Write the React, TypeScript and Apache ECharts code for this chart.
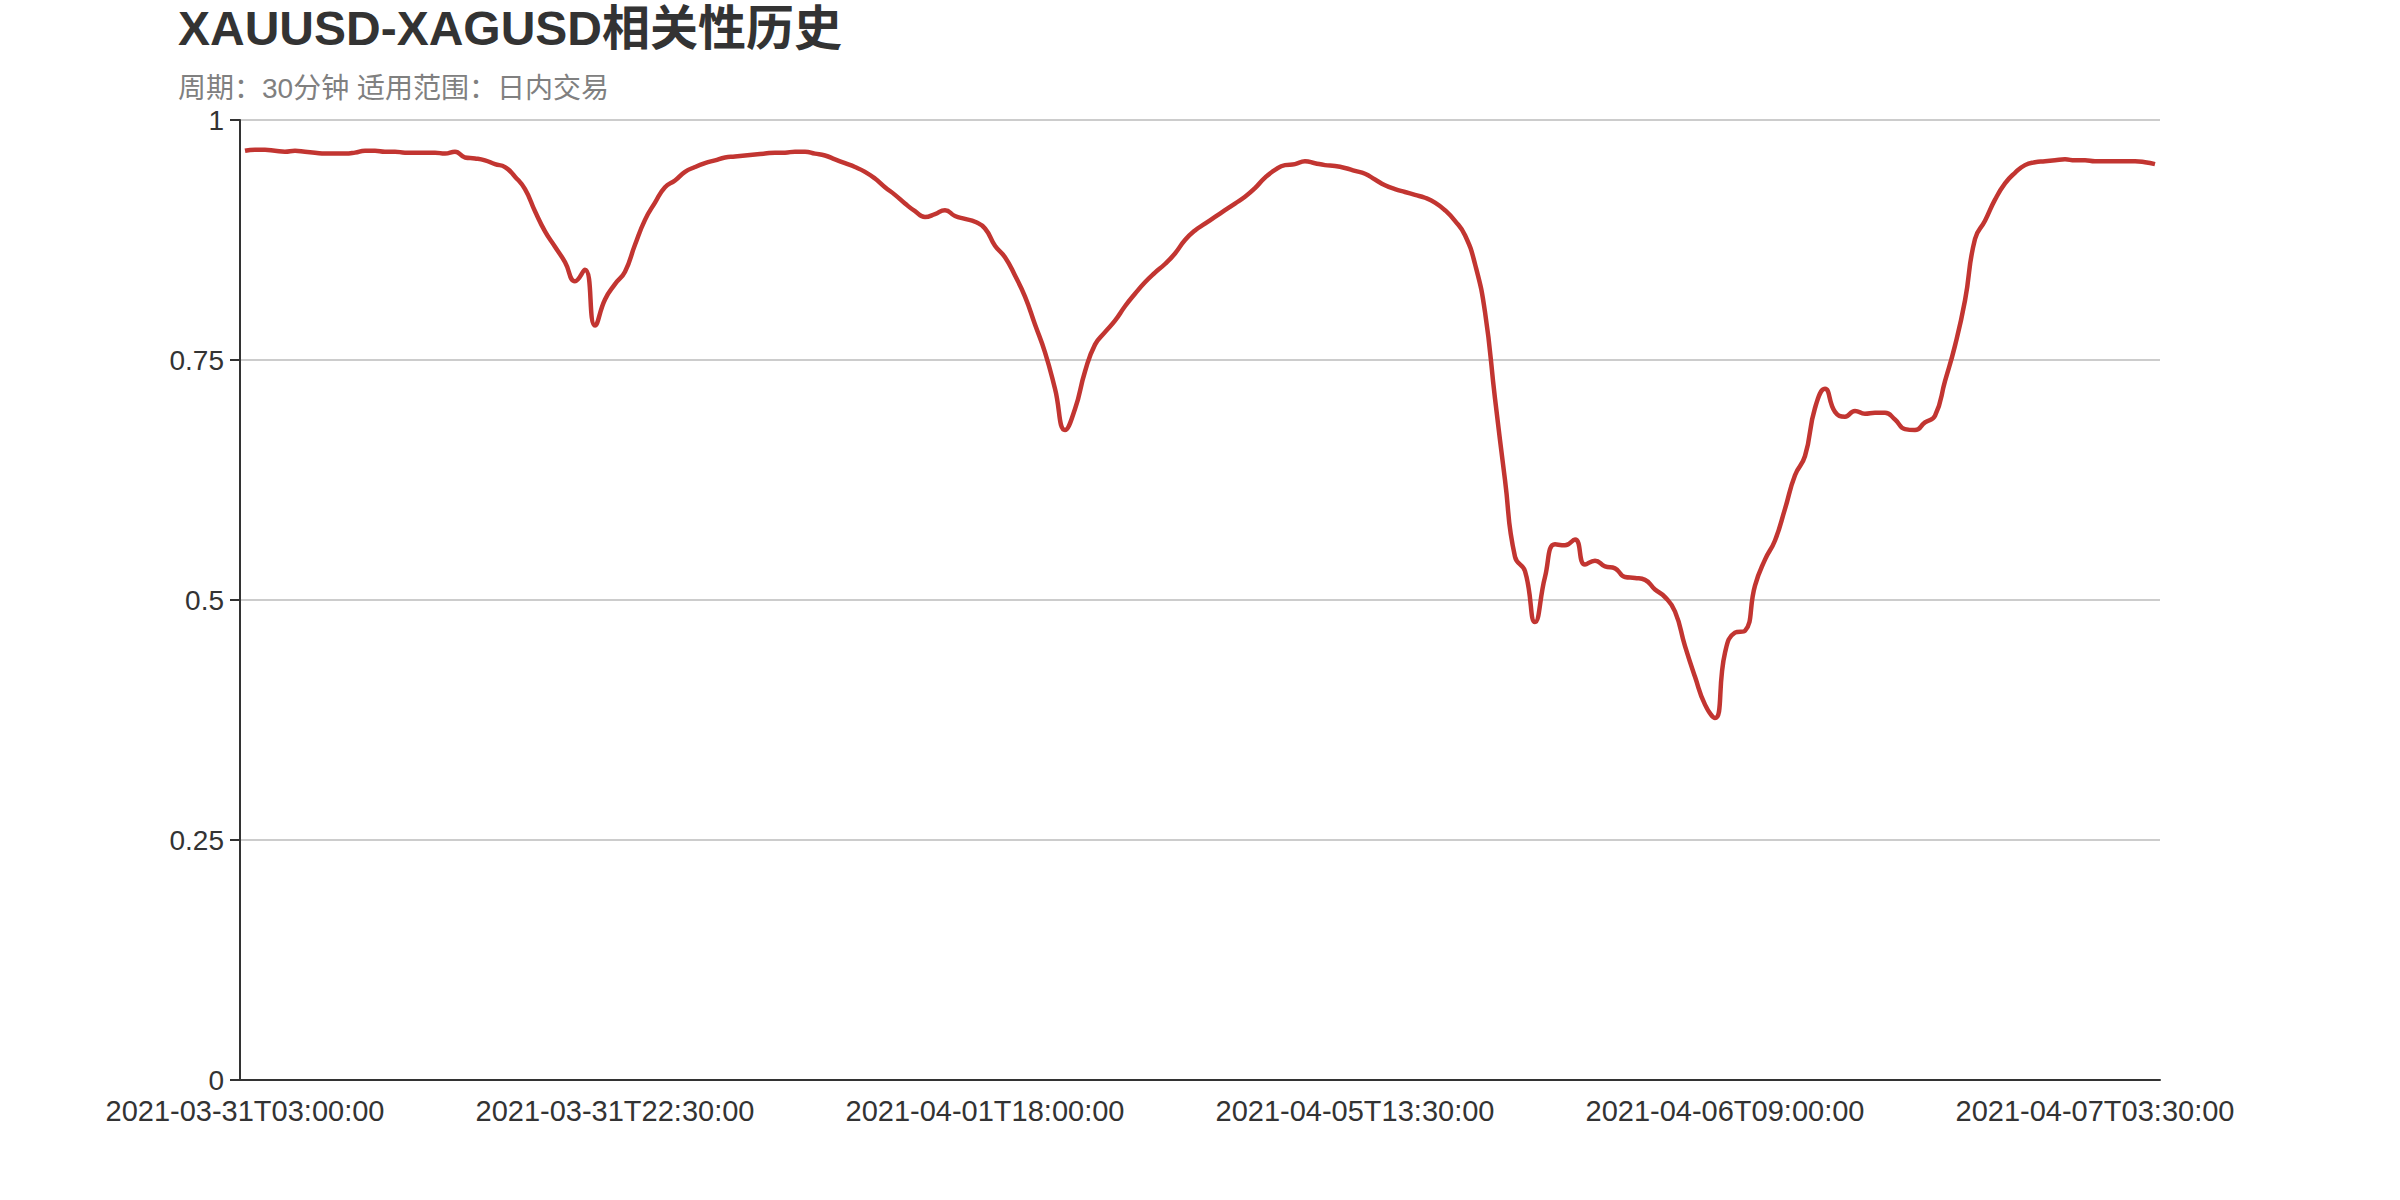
import React, { useEffect, useRef } from "react";
import * as echarts from "echarts";

const titleText = "XAUUSD-XAGUSD相关性历史";
const subtitleText = "周期：30分钟 适用范围：日内交易";

// anchor timestamps shown as x-axis labels (every 37th category)
const anchorTimes = [
  "2021-03-31T03:00:00",
  "2021-03-31T22:30:00",
  "2021-04-01T18:00:00",
  "2021-04-05T13:30:00",
  "2021-04-06T09:00:00",
  "2021-04-07T03:30:00",
];
const pointsPerAnchor = [37, 37, 37, 37, 37, 7];

const correlation = [
  0.968, 0.969, 0.969, 0.968, 0.967, 0.968, 0.967, 0.966, 0.965, 0.965,
  0.965, 0.966, 0.968, 0.968, 0.967, 0.967, 0.966, 0.966, 0.966, 0.966,
  0.965, 0.967, 0.961, 0.960, 0.958, 0.954, 0.951, 0.941, 0.928, 0.905,
  0.884, 0.868, 0.852, 0.832, 0.844, 0.786, 0.813, 0.829, 0.842, 0.870,
  0.896, 0.914, 0.930, 0.937, 0.946, 0.951, 0.955, 0.958, 0.961, 0.962,
  0.963, 0.964, 0.965, 0.966, 0.966, 0.967, 0.967, 0.965, 0.963, 0.959,
  0.955, 0.951, 0.946, 0.939, 0.930, 0.922, 0.913, 0.905, 0.899, 0.902,
  0.906, 0.900, 0.897, 0.894, 0.887, 0.869, 0.857, 0.838, 0.816, 0.787,
  0.758, 0.720, 0.677, 0.699, 0.738, 0.766, 0.779, 0.791, 0.806, 0.819,
  0.831, 0.841, 0.850, 0.861, 0.875, 0.885, 0.892, 0.899, 0.906, 0.913,
  0.920, 0.929, 0.940, 0.948, 0.953, 0.954, 0.957, 0.955, 0.953, 0.952,
  0.950, 0.947, 0.944, 0.938, 0.932, 0.928, 0.925, 0.922, 0.919, 0.914,
  0.906, 0.895, 0.880, 0.850, 0.800, 0.710, 0.625, 0.545, 0.530, 0.477,
  0.524, 0.558, 0.557, 0.563, 0.537, 0.541, 0.535, 0.533, 0.524, 0.523,
  0.521, 0.511, 0.503, 0.488, 0.452, 0.420, 0.391, 0.377, 0.445, 0.466,
  0.468, 0.515, 0.542, 0.562, 0.595, 0.630, 0.650, 0.700, 0.720, 0.696,
  0.691, 0.697, 0.694, 0.695, 0.695, 0.688, 0.678, 0.677, 0.685, 0.692,
  0.728, 0.765, 0.812, 0.876, 0.895, 0.917, 0.934, 0.945, 0.953, 0.956,
  0.957, 0.958, 0.959, 0.958, 0.958, 0.957, 0.957, 0.957, 0.957, 0.957,
  0.956, 0.954,
];

const yTicks = { min: 0, max: 1, interval: 0.25 };

function buildCategories(): string[] {
  const out: string[] = [];
  anchorTimes.forEach((a, k) => {
    const base = Date.parse(a + "Z");
    for (let j = 0; j < pointsPerAnchor[k]; j++) {
      out.push(new Date(base + j * 1800000).toISOString().slice(0, 19));
    }
  });
  return out;
}

const FONT = "'Liberation Sans', 'Noto Sans CJK SC', sans-serif";

export default function App() {
  const ref = useRef<HTMLDivElement>(null);
  useEffect(() => {
    document.body.style.margin = "0";
    if (!ref.current) return;
    const chart = echarts.init(ref.current, null, { renderer: "svg" });
    const categories = buildCategories();
    chart.setOption({
      animation: false,
      backgroundColor: "#fff",
      title: {
        text: titleText,
        subtext: subtitleText,
        left: 173,
        top: -1,
        padding: 5,
        itemGap: 22,
        textStyle: { fontSize: 48, fontWeight: "bold", color: "#333", fontFamily: FONT },
        subtextStyle: { fontSize: 28, color: "#808080", fontFamily: FONT },
      },
      grid: { left: 240, right: 240, top: 120, bottom: 120 },
      xAxis: {
        type: "category",
        data: categories,
        boundaryGap: true,
        axisLine: { lineStyle: { color: "#333", width: 2 } },
        axisTick: { show: false },
        axisLabel: { interval: 36, fontSize: 29, color: "#333", margin: 16, fontFamily: FONT },
      },
      yAxis: {
        type: "value",
        min: yTicks.min,
        max: yTicks.max,
        interval: yTicks.interval,
        axisLine: { show: true, lineStyle: { color: "#333", width: 2 } },
        axisTick: { show: true, length: 10, lineStyle: { color: "#333", width: 2 } },
        axisLabel: { fontSize: 28, color: "#333", margin: 16, fontFamily: FONT },
        splitLine: { lineStyle: { color: "#ccc", width: 2 } },
      },
      series: [
        {
          type: "line",
          data: correlation,
          smooth: true,
          showSymbol: false,
          symbol: "none",
          lineStyle: { color: "#c23531", width: 4.5 },
          itemStyle: { color: "#c23531" },
        },
      ],
    });
    return () => chart.dispose();
  }, []);
  return (
    <div
      ref={ref}
      style={{ position: "fixed", left: 0, top: 0, width: 2400, height: 1200 }}
    />
  );
}
